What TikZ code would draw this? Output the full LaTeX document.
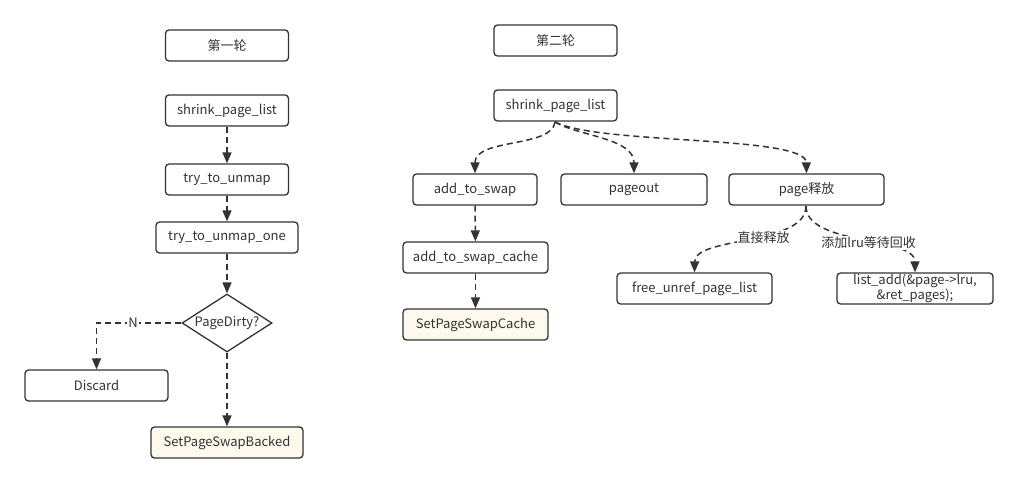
\documentclass[tikz,border=0pt]{standalone}
\usepackage{fontspec}
\setmainfont{Noto Sans CJK SC}
\usetikzlibrary{arrows.meta,shapes.geometric}
\definecolor{dark}{HTML}{333333}
\definecolor{cream}{HTML}{FDF9EC}
\tikzset{
  box/.style={draw=dark, rounded corners=3.5pt, line width=1.3pt, minimum height=31pt,
    text=dark, font=\fontsize{13}{15}\selectfont, inner sep=0pt, fill=white},
  hl/.style={box, fill=cream},
  arr/.style={draw=dark, line width=1.5pt, dash pattern=on 6pt off 4pt,
    -{Triangle[length=11pt,width=9pt]}},
  lbl/.style={fill=white, inner sep=1pt, text=dark, font=\fontsize{13}{15}\selectfont}
}
\begin{document}
\begin{tikzpicture}[x=1pt,y=-1pt]
\useasboundingbox (0,0) rectangle (1017,483);
% left column
\node[box, minimum width=123pt] (r1) at (227,45.5) {第一轮};
\node[box, minimum width=123pt] (s1) at (227,110.5) {shrink\_page\_list};
\node[box, minimum width=123pt] (t1) at (227,179.5) {try\_to\_unmap};
\node[box, minimum width=142pt] (t2) at (227,237.5) {try\_to\_unmap\_one};
\node[draw=dark, line width=1.3pt, shape=diamond, minimum width=90pt, minimum height=58pt, inner sep=0pt] (d) at (227,323) {};
\node[text=dark, font=\fontsize{13}{15}\selectfont] (dt) at (227,323) {PageDirty?};
\node[box, minimum width=143pt] (disc) at (96.5,385.5) {Discard};
\node[hl, minimum width=152pt] (spb) at (227,442.5) {SetPageSwapBacked};
\draw[arr] (s1) -- (t1);
\draw[arr] (t1) -- (t2);
\draw[arr] (t2) -- (d);
\draw[arr] (d) -- (spb);
\draw[arr] (d.west) -| node[lbl, pos=0.285] {N} (disc.north);
% right column
\node[box, minimum width=123pt] (r2) at (555.5,40.5) {第二轮};
\node[box, minimum width=123pt] (s2) at (555.5,105.5) {shrink\_page\_list};
\node[box, minimum width=124pt] (ats) at (475,189.5) {add\_to\_swap};
\node[box, minimum width=146pt] (po) at (634,189.5) {pageout};
\node[box, minimum width=155pt] (pr) at (806.5,189.5) {page释放};
\node[box, minimum width=145pt] (atc) at (475.5,257.5) {add\_to\_swap\_cache};
\node[hl, minimum width=145pt] (spc) at (475.5,324.5) {SetPageSwapCache};
\node[box, minimum width=155pt] (fu) at (694.5,288.5) {free\_unref\_page\_list};
\node[box, minimum width=156pt, align=center, font=\fontsize{13}{12.5}\selectfont] (la) at (915,288.5) {list\_add(\&page->lru,\\\&ret\_pages);};
\coordinate (s2b) at (555,122);
\coordinate (prb) at (806,206);
\draw[arr] (s2b) .. controls (552,148) and (475,138) .. (ats.north);
\draw[arr] (s2b) .. controls (578,136) and (634,138) .. (po.north);
\draw[arr] (s2b) .. controls (600,145) and (806,135) .. (pr.north);
\draw[arr] (ats) -- (atc);
\draw[arr] (atc) -- (spc);
\draw[arr] (prb) .. controls (806,246) and (695,236) .. node[lbl, pos=0.42] {直接释放} (fu.north);
\draw[arr] (prb) .. controls (806,246) and (915,236) .. node[lbl, pos=0.55] {添加lru等待回收} (la.north);
\end{tikzpicture}
\end{document}
